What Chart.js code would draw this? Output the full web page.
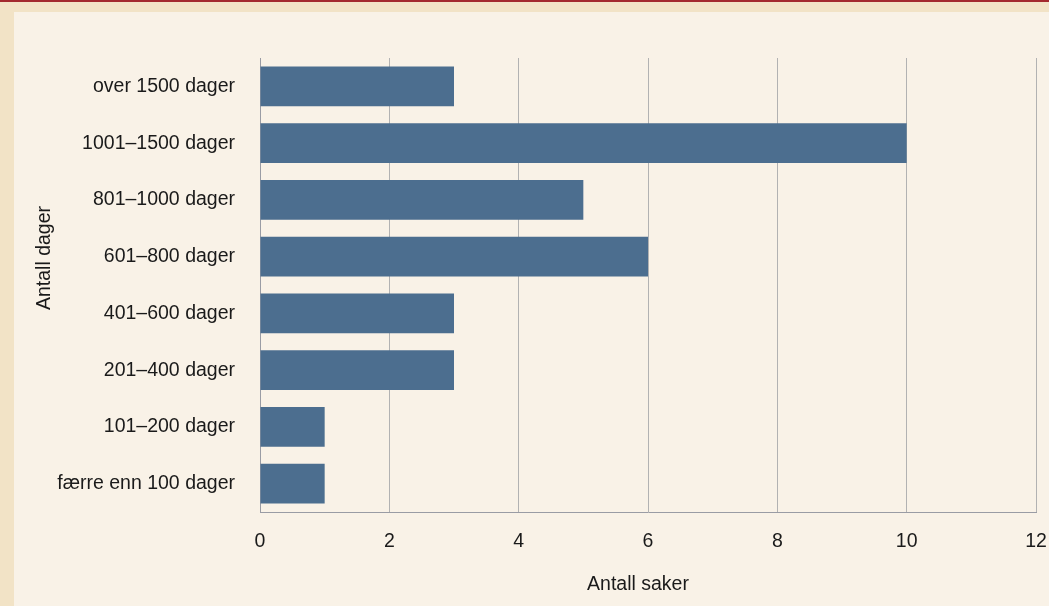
<!DOCTYPE html>
<html>
<head>
<meta charset="utf-8">
<script src="https://cdn.jsdelivr.net/npm/chart.js@4"></script>
<style>
  html, body { margin: 0; padding: 0; }
  body { width: 1049px; height: 606px; background: #f2e3c6; position: relative; overflow: hidden; }
  #topbar { position: absolute; left: 0; top: 0; width: 1049px; height: 2px; background: #a3292e; }
  #panel { position: absolute; left: 14px; top: 12px; width: 1035px; height: 594px; background: #f9f2e7; }
  #barChart { display: block; }
</style>
</head>
<body>
<div id="topbar"></div>
<div id="panel"><canvas id="barChart" width="1035" height="594"></canvas></div>
<script>
// Antall saker fordelt på saksbehandlingstid
const kategorier = ['over 1500 dager', '1001–1500 dager', '801–1000 dager', '601–800 dager',
  '401–600 dager', '201–400 dager', '101–200 dager', 'færre enn 100 dager'];
const antallSaker = [3, 10, 5, 6, 3, 3, 1, 1];
const xMaks = 12;
const xSteg = 2;

const font = { family: '"Liberation Sans", Arial, sans-serif', size: 19.5 };
const tekstFarge = '#1a1a1a';

// aksetitlene tegnes litt utenfor midten, slik som i originalen
const aksetitler = {
  id: 'aksetitler',
  afterDraw(chart) {
    const ctx = chart.ctx;
    ctx.save();
    ctx.fillStyle = tekstFarge;
    ctx.font = font.size + 'px ' + font.family;
    ctx.textAlign = 'center';
    ctx.textBaseline = 'middle';
    ctx.fillText('Antall saker', 624, 573);
    ctx.translate(31, 246);
    ctx.rotate(-Math.PI / 2);
    ctx.fillText('Antall dager', 0, 0);
    ctx.restore();
  }
};

const barChart = new Chart(document.getElementById('barChart'), {
  type: 'bar',
  data: {
    labels: kategorier,
    datasets: [{
      label: 'Antall saker',
      data: antallSaker,
      backgroundColor: '#4c6e8f',
      categoryPercentage: 0.7,
      barPercentage: 1
    }]
  },
  options: {
    indexAxis: 'y',
    responsive: false,
    animation: false,
    devicePixelRatio: 1,
    layout: { padding: { top: 46, right: 13, left: 0, bottom: 0 } },
    plugins: {
      legend: { display: false },
      tooltip: { enabled: false }
    },
    scales: {
      x: {
        min: 0,
        max: xMaks,
        ticks: { stepSize: xSteg, color: tekstFarge, font: font, padding: 18 },
        grid: { color: '#b2b2b2', drawTicks: false },
        border: { color: '#9a9ca4' },
        afterFit: scale => { scale.height = 94; scale.paddingRight = 0; scale.paddingLeft = 0; }
      },
      y: {
        ticks: { color: tekstFarge, font: font, padding: 17 },
        grid: { display: false },
        border: { color: '#9a9ca4' },
        afterFit: scale => { scale.width = 246; }
      }
    }
  },
  plugins: [aksetitler]
});
</script>
</body>
</html>
